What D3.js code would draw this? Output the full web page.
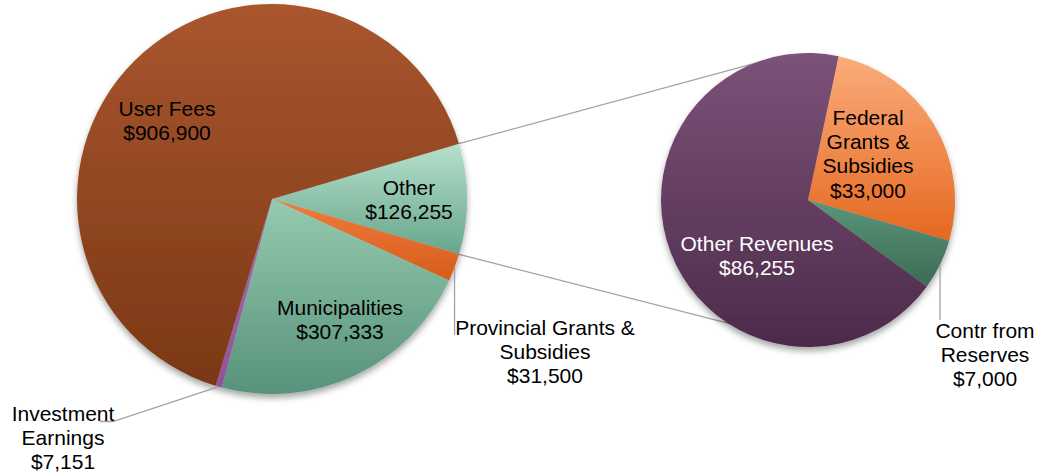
<!DOCTYPE html>
<html><head><meta charset="utf-8">
<script src="https://cdn.jsdelivr.net/npm/d3@7"></script>
<style>
html,body{margin:0;padding:0;background:#fff;}
svg{display:block;font-family:"Liberation Sans",Arial,sans-serif;}
</style></head>
<body>
<svg id="chart" width="1039" height="473"></svg>
<script>
// ---- data ----
const mainCategories = ["Other", "Provincial Grants & Subsidies", "Municipalities", "Investment Earnings", "User Fees"];
const mainValues = [126255, 31500, 307333, 7151, 906900];
const mainLabels = [["Other", "$126,255"], ["Provincial Grants &", "Subsidies", "$31,500"], ["Municipalities", "$307,333"], ["Investment", "Earnings", "$7,151"], ["User Fees", "$906,900"]];
const subCategories = ["Federal Grants & Subsidies", "Contr from Reserves", "Other Revenues"];
const subValues = [33000, 7000, 86255];
const subLabels = [["Federal", "Grants &", "Subsidies", "$33,000"], ["Contr from", "Reserves", "$7,000"], ["Other Revenues", "$86,255"]];

// ---- styles / layout ----
const mainColors = [["#b6e0cb", "#67a68b"], ["#ee7c3d", "#d65d1c"], ["#95cbb0", "#58927a"], ["#a96db1", "#8e5497"], ["#a9562f", "#7a3815"]];
const subColors = [["#fbac7b", "#e56820"], ["#5b9679", "#3b6b54"], ["#7c5279", "#4c2b4a"]];
const deg = Math.PI / 180;
const main = {cx: 272, cy: 199, r: 195};
const sub = {cx: 808, cy: 200, r: 147};

const svg = d3.select("#chart");
const defs = svg.append("defs");
const f = defs.append("filter").attr("id", "sh").attr("x", "-10%").attr("y", "-10%").attr("width", "120%").attr("height", "125%");
f.append("feDropShadow").attr("dx", 0).attr("dy", 4).attr("stdDeviation", 3).attr("flood-color", "#000").attr("flood-opacity", 0.35);

function grad(id, c) {
  const g = defs.append("linearGradient").attr("id", id).attr("x1", 0).attr("y1", 0).attr("x2", 0).attr("y2", 1);
  g.append("stop").attr("offset", "0%").attr("stop-color", c[0]);
  g.append("stop").attr("offset", "100%").attr("stop-color", c[1]);
}
mainColors.forEach((c, i) => grad("mg" + i, c));
subColors.forEach((c, i) => grad("sg" + i, c));

// main pie: "Other" centred on the 3 o'clock direction
const mainTotal = d3.sum(mainValues);
const otherSpan = mainValues[0] / mainTotal * 2 * Math.PI;
const mainStart = Math.PI / 2 - otherSpan / 2;
const mainPie = d3.pie().sort(null).startAngle(mainStart).endAngle(mainStart + 2 * Math.PI);
const mainArcs = mainPie(mainValues);
const mainArc = d3.arc().innerRadius(0).outerRadius(main.r);

const subStart = 12 * deg;
const subPie = d3.pie().sort(null).startAngle(subStart).endAngle(subStart + 2 * Math.PI);
const subArcs = subPie(subValues);
const subArc = d3.arc().innerRadius(0).outerRadius(sub.r);

const pt = (c, r, a) => [c.cx + r * Math.sin(a), c.cy - r * Math.cos(a)];

// connector lines
const lineCol = "#a3a3a3";
const topA = mainArcs[0].startAngle, botA = mainArcs[0].endAngle;
const subTopA = -18 * deg, subBotA = 212 * deg;
[[pt(main, main.r, topA), pt(sub, sub.r - 1, subTopA)], [pt(main, main.r, botA), pt(sub, sub.r - 1, subBotA)]].forEach(([a, b]) => {
  svg.append("line").attr("x1", a[0]).attr("y1", a[1]).attr("x2", b[0]).attr("y2", b[1])
    .attr("stroke", lineCol).attr("stroke-width", 1.3);
});

const gMain = svg.append("g").attr("transform", `translate(${main.cx},${main.cy})`).attr("filter", "url(#sh)");
gMain.selectAll("path").data(mainArcs).join("path")
  .attr("d", mainArc).attr("fill", (d, i) => `url(#mg${i})`);

const gSub = svg.append("g").attr("transform", `translate(${sub.cx},${sub.cy})`).attr("filter", "url(#sh)");
gSub.selectAll("path").data(subArcs).join("path")
  .attr("d", subArc).attr("fill", (d, i) => `url(#sg${i})`);

// leader lines
function poly(points) {
  svg.append("path").attr("d", d3.line()(points)).attr("fill", "none").attr("stroke", lineCol).attr("stroke-width", 1.3);
}
const provMid = (mainArcs[1].startAngle + mainArcs[1].endAngle) / 2;
const pp = pt(main, main.r, provMid);
poly([pp, [pp[0], 335]]);
const invMid = (mainArcs[3].startAngle + mainArcs[3].endAngle) / 2;
const ip = pt(main, main.r, invMid);
poly([ip, [113, 421.5], [100, 421.5]]);
const conMid = (subArcs[1].startAngle + subArcs[1].endAngle) / 2;
const cp = pt(sub, sub.r, conMid);
poly([cp, [cp[0], 320]]);

// labels
const fs = 21, lh = 24.2;
function label(lines, x, y, color) {
  const t = svg.append("text").attr("text-anchor", "middle").attr("font-size", fs).attr("fill", color || "#000");
  lines.forEach((s, i) => t.append("tspan").attr("x", x).attr("y", y + i * lh).text(s));
}
const mainPos = [[409, 195], [545, 335], [340, 315], [63, 421], [167, 115.5]];
mainLabels.forEach((l, i) => label(l, mainPos[i][0], mainPos[i][1]));
const subPos = [[868, 125], [985, 338], [757, 251]];
subLabels.forEach((l, i) => label(l, subPos[i][0], subPos[i][1], i === 2 ? "#fff" : "#000"));
</script>
</body></html>
